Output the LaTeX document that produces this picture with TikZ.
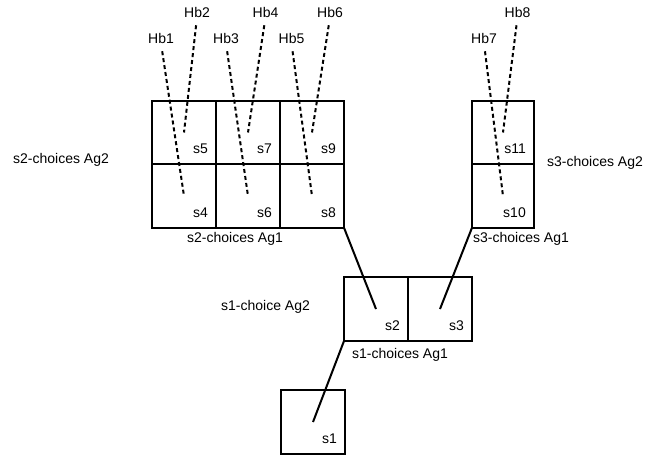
\documentclass[tikz,border=0pt]{standalone}
\usepackage{fontspec}
\setmainfont{Liberation Sans}
\begin{document}
\begin{tikzpicture}[x=1pt,y=-1pt,
  cell/.style={draw, line width=2pt, minimum width=64pt, minimum height=63.5pt, inner sep=0pt, outer sep=0pt,
    label={[anchor=south east, inner sep=0pt, xshift=-8pt, yshift=10pt]south east:#1}},
  txt/.style={inner sep=0pt, font=\fontsize{14}{16}\selectfont},
  hyp/.style={draw, line width=2pt, dash pattern=on 4pt off 3pt, shorten <=8pt},
  link/.style={draw, line width=2pt},
  every label/.style={font=\fontsize{14}{16}\selectfont}]
\useasboundingbox (0,0) rectangle (662,460);
% s2 grid
\node[cell=s5] (s5) at (184,132.5) {};
\node[cell=s4] (s4) at (184,196) {};
\node[cell=s7] (s7) at (248,132.5) {};
\node[cell=s6] (s6) at (248,196) {};
\node[cell=s9] (s9) at (312,132.5) {};
\node[cell=s8] (s8) at (312,196) {};
% s3 grid
\node[cell=s11, minimum width=62pt] (s11) at (503,132.5) {};
\node[cell=s10, minimum width=62pt] (s10) at (503,196) {};
% s1 choices
\node[cell=s2, minimum height=64pt] (s2) at (376,309) {};
\node[cell=s3, minimum height=64pt] (s3) at (440,309) {};
% root
\node[cell=s1, minimum height=64pt] (s1) at (313,422) {};
% hypothesis labels
\node[txt] (hb1) at (161,38) {Hb1};
\node[txt] (hb2) at (197,12) {Hb2};
\node[txt] (hb3) at (226,38) {Hb3};
\node[txt] (hb4) at (265.5,12) {Hb4};
\node[txt] (hb5) at (291.5,38) {Hb5};
\node[txt] (hb6) at (330,12) {Hb6};
\node[txt] (hb7) at (484,38) {Hb7};
\node[txt] (hb8) at (517.5,12) {Hb8};
% group labels
\node[txt] (l2a2) at (61,160) {s2-choices Ag2};
\node[txt] (l2a1) at (235,239) {s2-choices Ag1};
\node[txt] (l3a2) at (595,162.5) {s3-choices Ag2};
\node[txt] (l3a1) at (521,239) {s3-choices Ag1};
\node[txt] (l1a2) at (265.5,307) {s1-choice Ag2};
\node[txt] (l1a1) at (400,355) {s1-choices Ag1};
% dashed connectors
\draw[hyp] (hb1.south) -- (s4.center);
\draw[hyp] (hb2.south) -- (s5.center);
\draw[hyp] (hb3.south) -- (s6.center);
\draw[hyp] (hb4.south) -- (s7.center);
\draw[hyp] (hb5.south) -- (s8.center);
\draw[hyp] (hb6.south) -- (s9.center);
\draw[hyp] (hb7.south) -- (s10.center);
\draw[hyp] (hb8.south) -- (s11.center);
% solid connectors
\draw[link] (s8.south east) -- (s2.center);
\draw[link] (s10.south west) -- (s3.center);
\draw[link] (s2.south west) -- (s1.center);
\end{tikzpicture}
\end{document}
